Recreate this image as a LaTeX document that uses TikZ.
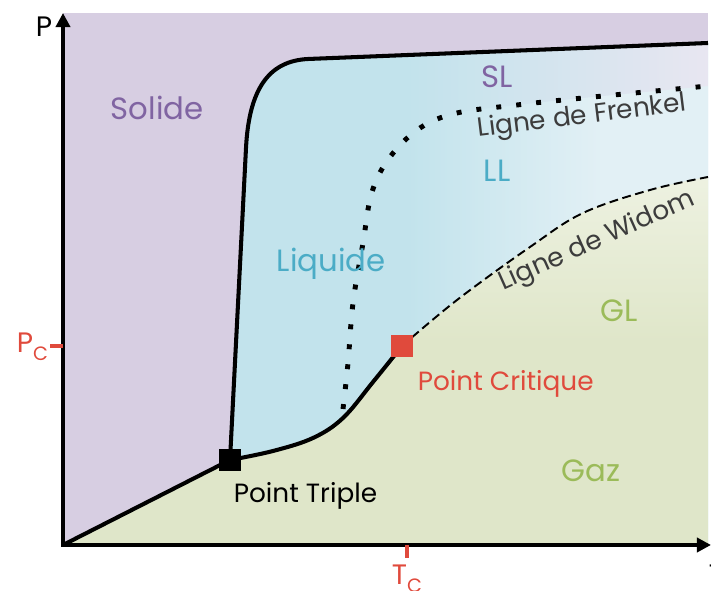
\documentclass[tikz,border=0pt]{standalone}
\usepackage{fontspec}
\setmainfont{Poppins}
\usetikzlibrary{arrows.meta}
\definecolor{solidfill}{HTML}{D7CEE2}
\definecolor{liqfill}{HTML}{C2E3EC}
\definecolor{liqpale}{HTML}{E2F0F5}
\definecolor{lavender}{HTML}{E8E6F1}
\definecolor{gasfill}{HTML}{DFE6C9}
\definecolor{gaspale}{HTML}{EEF2E2}
\definecolor{solidtext}{HTML}{8064A2}
\definecolor{liqtext}{HTML}{4BACC6}
\definecolor{gastext}{HTML}{9BBB59}
\definecolor{crit}{HTML}{E04A3C}
\definecolor{linetext}{HTML}{3C3C3C}

\begin{document}
\begin{tikzpicture}[x=0.02cm,y=0.02cm,>={Triangle[length=8pt,width=8pt]},
axis/.style={<->,line width=2.8pt,line join=miter},phaseline/.style={line width=2.3pt,line join=round},widom/.style={line width=1.1pt,dash pattern=on 5pt off 2.6pt},frenkel/.style={line width=2.8pt,dash pattern=on 2.8pt off 8.6pt},tick/.style={crit,line width=2.8pt},marker/.style={rectangle,minimum size=12.5pt,inner sep=0pt},phase/.style={anchor=base west,inner sep=2pt,font=\fontsize{17.5}{17.5}\selectfont},pointlabel/.style={anchor=base west,inner sep=2pt,font=\fontsize{15}{15}\selectfont},axislabel/.style={anchor=base west,inner sep=2pt,font=\fontsize{16}{16}\selectfont},linelabel/.style={anchor=base west,inner sep=2pt,text=linetext,font=\fontsize{15}{15}\selectfont}]
\useasboundingbox (-63,-46) rectangle (648,545);
\coordinate (O) at (0,0);
\coordinate (TP) at (167,85);
\coordinate (CP) at (339,199);
% solid everywhere, then liquid and gas on top
\fill[solidfill] (0,0) rectangle (645,532);
\fill[liqfill] (TP) -- (183,397) .. controls (186,455) and (205,484) .. (245,486) -- (645,502) -- (645,0) -- (167,0) -- cycle;
\begin{scope}
\clip (TP) -- (183,397) .. controls (186,455) and (205,484) .. (245,486) -- (645,502) -- (645,0) -- (167,0) -- cycle;
\shade[left color=liqfill,right color=liqpale] (344,0) rectangle (540,532);
\fill[liqpale] (540,0) rectangle (645,532);
\clip (280,136) -- plot[smooth,tension=0.6] coordinates {(280,136) (285,182) (290,242) (300,302) (309,353) (327,388) (357,417) (394,432) (454,440) (520,447) (645,459)} -- (645,532) -- (0,532) -- (0,136) -- cycle;
\shade[left color=liqfill,right color=lavender] (344,380) rectangle (645,532);
\end{scope}
\fill[gasfill] (O) -- plot[smooth,tension=0.6] coordinates {(167,85) (210,94) (250,107) (280,127) (310,163) (339,199)} -- plot[smooth,tension=0.6] coordinates {(339,199) (394,245) (467,298) (520,332) (587,355) (645,368)} -- (645,0) -- cycle;
\begin{scope}
\clip (O) -- plot[smooth,tension=0.6] coordinates {(167,85) (210,94) (250,107) (280,127) (310,163) (339,199)} -- plot[smooth,tension=0.6] coordinates {(339,199) (394,245) (467,298) (520,332) (587,355) (645,368)} -- (645,0) -- cycle;
\shade[bottom color=gasfill,top color=gaspale] (344,202) rectangle (645,375);
\end{scope}
% coexistence lines
\draw[phaseline] (O) -- (TP);
\draw[phaseline] (TP) -- (183,397) .. controls (186,455) and (205,484) .. (245,486) -- (645,502);
\draw[phaseline] plot[smooth,tension=0.6] coordinates {(167,85) (210,94) (250,107) (280,127) (310,163) (339,199)};
\draw[widom] plot[smooth,tension=0.6] coordinates {(339,199) (394,245) (467,298) (520,332) (587,355) (645,368)};
\draw[frenkel] plot[smooth,tension=0.6] coordinates {(280,136) (285,182) (290,242) (300,302) (309,353) (327,388) (357,417) (394,432) (454,440) (520,447) (645,459)};
% axes and ticks
\draw[axis] (0,532) -- (O) -- (648,0);
\draw[tick] (-13,199) -- (0,199);
\draw[tick] (344,0) -- (344,-13);
\node[marker,fill=black] (tp) at (TP) {};
\node[marker,fill=crit] (cp) at (CP) {};
% labels
\node[axislabel] (plabel) at (-31,508) {P};
\node[axislabel,text=crit] (pclabel) at (-50,192) {P\raisebox{-4.5pt}{\fontsize{11}{11}\selectfont C}};
\node[axislabel,text=crit] (tclabel) at (325,-40) {T\raisebox{-4.5pt}{\fontsize{11}{11}\selectfont C}};
\node[axislabel] (tlabel) at (642,-40) {T};
\node[phase,text=solidtext] (solide) at (44,425) {Solide};
\node[phase,text=liqtext] (liquide) at (210,273) {Liquide};
\node[phase,text=solidtext] (sl) at (415,457) {SL};
\node[phase,text=liqtext] (ll) at (417,363) {LL};
\node[phase,text=gastext] (gl) at (534,223) {GL};
\node[phase,text=gastext] (gaz) at (495,63) {Gaz};
\node[pointlabel] (triple) at (167,42) {Point Triple};
\node[pointlabel,text=crit] (critique) at (351,154) {Point Critique};
\node[linelabel,rotate=7] (frenkellabel) at (412,408) {Ligne de Frenkel};
\node[linelabel,rotate=24] (widomlabel) at (437,253) {Ligne de Widom};
\end{tikzpicture}
\end{document}
